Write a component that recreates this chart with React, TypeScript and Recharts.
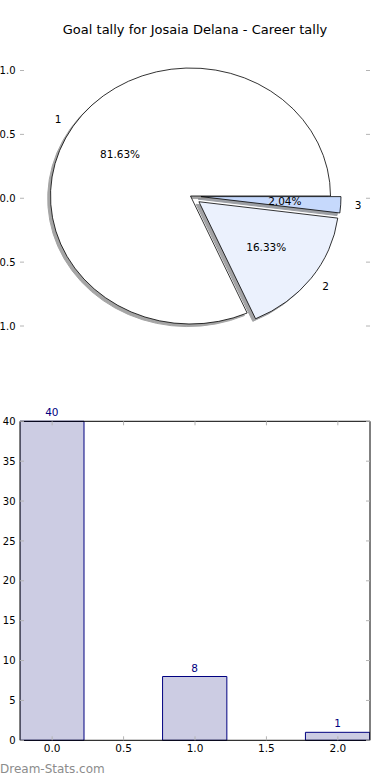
import React from "react";
import {
  Bar,
  BarChart,
  Cell,
  ComposedChart,
  LabelList,
  Pie,
  PieChart,
  XAxis,
  YAxis,
} from "recharts";

// data
const categories = ["1", "2", "3"];
const goals = [40, 8, 1];
const barPositions = [0, 1, 2];
const pieYTicks = [1, 0.5, 0, -0.5, -1];
const barXTicks = [0, 0.5, 1, 1.5, 2];
const barYTicks = [0, 5, 10, 15, 20, 25, 30, 35, 40];

// style
const sliceColors = ["#ffffff", "#ebf1fd", "#c6d9fc"];
const explode = [0, 0.075, 0.075];

const FONT = "'DejaVu Sans', sans-serif";
const NAVY = "#000080";
const TICK_GRAY = "#b4b4b4";

const PIE_CX = 190.5;
const PIE_CY = 196;
const PIE_RX = 140;
const PIE_RY = 128;
const RAD = Math.PI / 180;

const pieData = categories.map((name, i) => ({ name, value: goals[i] }));
const barData = barPositions.map((x, i) => ({ x, goals: goals[i] }));
const pieAxisData = pieYTicks.map((y, i) => ({ i, y }));

const BAR_WIDTH = 0.45;
const barDomain = [barPositions[0] - BAR_WIDTH / 2, barPositions[barPositions.length - 1] + BAR_WIDTH / 2];
const BAR_PLOT_W = 350;
const barPx = (BAR_PLOT_W * BAR_WIDTH) / (barDomain[1] - barDomain[0]);

function explodeOffset(name: string, midAngle: number) {
  const e = explode[categories.indexOf(name)] || 0;
  return {
    dx: e * PIE_RX * Math.cos(midAngle * RAD),
    dy: -e * PIE_RY * Math.sin(midAngle * RAD),
  };
}

function wedgePath(cx: number, cy: number, start: number, end: number) {
  const x1 = cx + PIE_RX * Math.cos(start * RAD);
  const y1 = cy - PIE_RY * Math.sin(start * RAD);
  const x2 = cx + PIE_RX * Math.cos(end * RAD);
  const y2 = cy - PIE_RY * Math.sin(end * RAD);
  const large = Math.abs(end - start) > 180 ? 1 : 0;
  const sweep = end > start ? 0 : 1;
  return `M ${cx} ${cy} L ${x1} ${y1} A ${PIE_RX} ${PIE_RY} 0 ${large} ${sweep} ${x2} ${y2} Z`;
}

function darken(hex: string) {
  const n = parseInt(hex.slice(1), 16);
  const r = Math.round(((n >> 16) & 255) * 0.3);
  const g = Math.round(((n >> 8) & 255) * 0.3);
  const b = Math.round((n & 255) * 0.3);
  return `rgb(${r},${g},${b})`;
}

function WedgeShape(props: any) {
  const name = props.payload?.name ?? props.name;
  const { dx, dy } = explodeOffset(name, props.midAngle);
  return (
    <path
      d={wedgePath(props.cx + dx, props.cy + dy, props.startAngle, props.endAngle)}
      fill={props.fill}
      stroke="#000"
      strokeWidth={0.8}
    />
  );
}

function ShadowShape(props: any) {
  const name = props.payload?.name ?? props.name;
  const { dx, dy } = explodeOffset(name, props.midAngle);
  const color = darken(props.fill);
  return (
    <path
      d={wedgePath(props.cx + dx - 0.02 * PIE_RX, props.cy + dy + 0.02 * PIE_RY, props.startAngle, props.endAngle)}
      fill={color}
      stroke={color}
      strokeWidth={1}
      opacity={0.5}
    />
  );
}

function PieLabel(props: any) {
  const { cx, cy, midAngle, percent, name } = props;
  const { dx, dy } = explodeOffset(name, midAngle);
  const c = Math.cos(midAngle * RAD);
  const s = Math.sin(midAngle * RAD);
  const lx = cx + dx + 1.1 * PIE_RX * c;
  const ly = cy + dy - 1.1 * PIE_RY * s;
  const px = cx + dx + 0.6 * PIE_RX * c;
  const py = cy + dy - 0.6 * PIE_RY * s;
  return (
    <g>
      <text x={lx} y={ly} dy={3.7} textAnchor={c >= 0 ? "start" : "end"} fontSize={10.5} fill="#000" fontFamily={FONT}>
        {name}
      </text>
      <text x={px} y={py} dy={3.7} textAnchor="middle" fontSize={10.5} fill="#000" fontFamily={FONT}>
        {`${(percent * 100).toFixed(2)}%`}
      </text>
    </g>
  );
}

function LeftTick(props: any) {
  const { x, y, payload } = props;
  return (
    <g>
      <line x1={x} x2={x + 4} y1={y} y2={y} stroke={TICK_GRAY} strokeWidth={1} />
      <text x={x - 4.5} y={y} dy={3.6} textAnchor="end" fontSize={10} fill="#000" fontFamily={FONT}>
        {props.format ? props.format(payload.value) : payload.value}
      </text>
    </g>
  );
}

function RightTick(props: any) {
  const { x, y } = props;
  return <line x1={x - 4} x2={x} y1={y} y2={y} stroke={TICK_GRAY} strokeWidth={1} />;
}

function BottomTick(props: any) {
  const { x, y, payload } = props;
  return (
    <g>
      <line x1={x} x2={x} y1={y - 4} y2={y} stroke={TICK_GRAY} strokeWidth={1} />
      <text x={x} y={y + 12} textAnchor="middle" fontSize={10.5} fill="#000" fontFamily={FONT}>
        {Number(payload.value).toFixed(1)}
      </text>
    </g>
  );
}

function TopTick(props: any) {
  const { x, y } = props;
  return <line x1={x} x2={x} y1={y} y2={y + 4} stroke={TICK_GRAY} strokeWidth={1} />;
}

export default function App() {
  return (
    <div style={{ position: "absolute", left: 0, top: 0, width: 390, height: 780, background: "#fff", fontFamily: FONT }}>
      <div style={{ position: "absolute", left: 0, top: 0 }}>
        <ComposedChart width={390} height={360} data={pieAxisData} margin={{ top: 44.95, right: 0, bottom: 8.45, left: 0 }}>
          <XAxis dataKey="i" type="number" domain={[0, 4]} hide />
          <YAxis
            yAxisId="left"
            dataKey="y"
            type="number"
            domain={[-1.2, 1.2]}
            ticks={pieYTicks}
            interval={0}
            width={20}
            axisLine={false}
            tickLine={false}
            tickSize={0}
            tickMargin={0}
            tick={<LeftTick format={(v: number) => v.toFixed(1)} />}
          />
          <YAxis
            yAxisId="right"
            dataKey="y"
            orientation="right"
            type="number"
            domain={[-1.2, 1.2]}
            ticks={pieYTicks}
            interval={0}
            width={20}
            axisLine={false}
            tickLine={false}
            tickSize={0}
            tickMargin={0}
            tick={<RightTick />}
          />
        </ComposedChart>
      </div>
      <div style={{ position: "absolute", left: 0, top: 0 }}>
        <PieChart width={390} height={360} margin={{ top: 0, right: 0, bottom: 0, left: 0 }}>
          <Pie
            data={pieData}
            dataKey="value"
            nameKey="name"
            cx={PIE_CX}
            cy={PIE_CY}
            outerRadius={PIE_RX}
            startAngle={0}
            endAngle={360}
            shape={ShadowShape}
            isAnimationActive={false}
          >
            {pieData.map((d, i) => (
              <Cell key={d.name} fill={sliceColors[i]} />
            ))}
          </Pie>
          <Pie
            data={pieData}
            dataKey="value"
            nameKey="name"
            cx={PIE_CX}
            cy={PIE_CY}
            outerRadius={PIE_RX}
            startAngle={0}
            endAngle={360}
            shape={WedgeShape}
            label={PieLabel}
            labelLine={false}
            isAnimationActive={false}
          >
            {pieData.map((d, i) => (
              <Cell key={d.name} fill={sliceColors[i]} />
            ))}
          </Pie>
        </PieChart>
      </div>
      <div style={{ position: "absolute", left: 0, top: 390 }}>
        <BarChart width={390} height={390} data={barData} margin={{ top: 30.3, right: 19, bottom: 19.7, left: 0 }}>
          <XAxis
            xAxisId="bottom"
            dataKey="x"
            type="number"
            domain={barDomain}
            allowDataOverflow
            ticks={barXTicks}
            interval={0}
            height={20}
            axisLine={{ stroke: "#000" }}
            tickLine={false}
            tickSize={0}
            tickMargin={0}
            tick={<BottomTick />}
          />
          <XAxis
            xAxisId="top"
            orientation="top"
            dataKey="x"
            type="number"
            domain={barDomain}
            allowDataOverflow
            ticks={barXTicks}
            interval={0}
            height={1}
            axisLine={{ stroke: "#000" }}
            tickLine={false}
            tickSize={0}
            tickMargin={0}
            tick={<TopTick />}
          />
          <YAxis
            yAxisId="left"
            dataKey="goals"
            type="number"
            domain={[0, 40]}
            ticks={barYTicks}
            interval={0}
            width={20}
            axisLine={{ stroke: "#000" }}
            tickLine={false}
            tickSize={0}
            tickMargin={0}
            tick={<LeftTick />}
          />
          <YAxis
            yAxisId="right"
            dataKey="goals"
            orientation="right"
            type="number"
            domain={[0, 40]}
            ticks={barYTicks}
            interval={0}
            width={1}
            axisLine={{ stroke: "#000" }}
            tickLine={false}
            tickSize={0}
            tickMargin={0}
            tick={<RightTick />}
          />
          <Bar
            xAxisId="bottom"
            yAxisId="left"
            dataKey="goals"
            barSize={barPx}
            fill="#cccce3"
            stroke={NAVY}
            strokeWidth={1}
            isAnimationActive={false}
          >
            <LabelList dataKey="goals" position="top" offset={5} fill={NAVY} fontSize={10.5} fontFamily={FONT} />
          </Bar>
        </BarChart>
      </div>
      <svg width={390} height={780} style={{ position: "absolute", left: 0, top: 0, pointerEvents: "none" }}>
        <text x={195} y={34} textAnchor="middle" fontSize={13} fill="#000" fontFamily={FONT}>
          Goal tally for Josaia Delana - Career tally
        </text>
        <text x={0} y={773} fontSize={12} fill="#8c8c8c" fontFamily={FONT}>
          Dream-Stats.com
        </text>
      </svg>
    </div>
  );
}
